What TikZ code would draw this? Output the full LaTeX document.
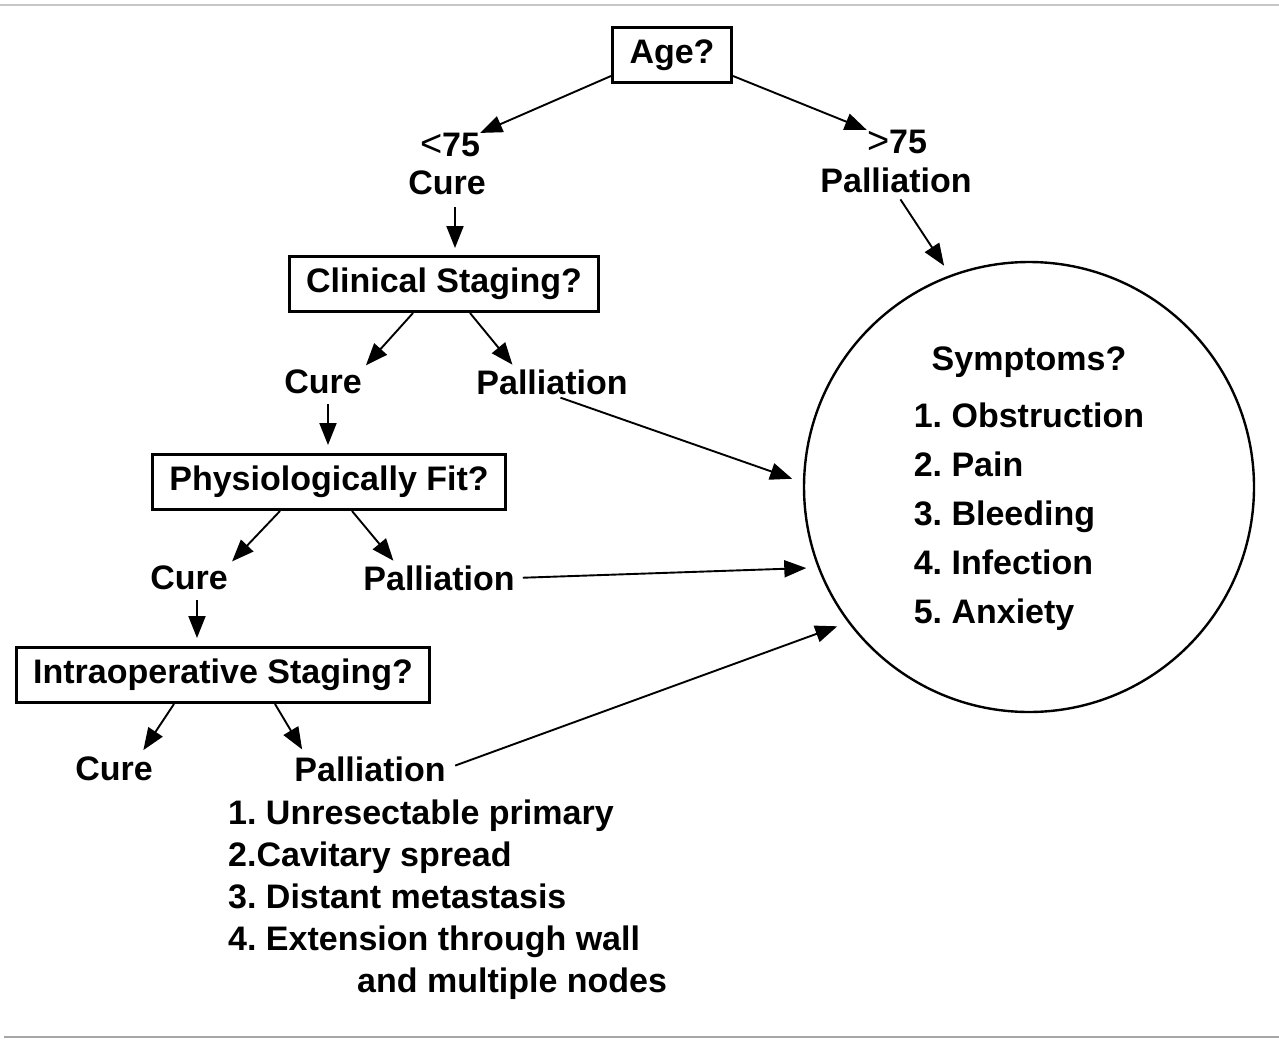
\documentclass[tikz,border=0pt]{standalone}
\usepackage{fontspec}
\setmainfont{Liberation Sans}
\usetikzlibrary{arrows.meta}
\frenchspacing

\tikzset{
  qbox/.style={draw, line width=3pt, inner xsep=17pt, minimum height=55pt, font=\bfseries\fontsize{34}{40}\selectfont},
  lbl/.style={inner sep=0pt, font=\bfseries\fontsize{34}{40}\selectfont},
  arr/.style={line width=1.9pt, -{Triangle[length=22pt,width=17pt]}},
}

\begin{document}
\begin{tikzpicture}[x=1pt,y=-1pt]
  \useasboundingbox (0,0) rectangle (1279,1041);
  \draw[line width=2pt, gray!45] (0,5)--(1279,5);
  \draw[line width=2.5pt, gray!70] (4,1037)--(1279,1037);

  \node[qbox] (age) at (672,55) {Age?};
  \node[lbl] (lt75) at (450,145) {{\mdseries\fontsize{38}{40}\selectfont <}75};
  \node[lbl] (cure0) at (447,183) {Cure};
  \node[lbl] (gt75) at (897,142) {{\mdseries\fontsize{38}{40}\selectfont >}75};
  \node[lbl] (pall0) at (896,180) {Palliation};

  \node[qbox] (clin) at (444,284) {Clinical Staging?};
  \node[lbl] (cure1) at (323,382) {Cure};
  \node[lbl] (pall1) at (552,382) {Palliation};

  \node[qbox] (phys) at (329,482) {Physiologically Fit?};
  \node[lbl] (cure2) at (189,578) {Cure};
  \node[lbl] (pall2) at (439,578) {Palliation};

  \node[qbox] (intra) at (223,675) {Intraoperative Staging?};
  \node[lbl] (cure3) at (114,769) {Cure};
  \node[lbl] (pall3) at (370,769) {Palliation};
  \node[lbl, anchor=north west, align=left, font=\bfseries\fontsize{34}{42}\selectfont] (reasons) at (228,800)
    {1. Unresectable primary\\2.Cavitary spread\\3. Distant metastasis\\4. Extension through wall\\\hspace*{129pt}and multiple nodes};

  \node[draw, circle, line width=2.4pt, minimum size=450pt, inner sep=0pt, outer sep=12pt,
        font=\bfseries\fontsize{34}{49}\selectfont] (symp) at (1029,487)
    {\begin{tabular}{@{}l@{}}
      \multicolumn{1}{@{}c@{}}{Symptoms?}\\[8pt]
      1. Obstruction\\
      2. Pain\\
      3. Bleeding\\
      4. Infection\\
      5. Anxiety
    \end{tabular}};

  \draw[arr] ([yshift=8pt]age.south west) -- (lt75.north east);
  \draw[arr] ([yshift=8pt]age.south east) -- (gt75.north west);
  \draw[arr, shorten <=12pt, shorten >=7pt] ([xshift=8pt]cure0.south) -- ([xshift=8pt]cure0.south |- clin.north);

  \draw[arr, shorten >=6pt] ([xshift=-31pt]clin.south) -- (cure1.north east);
  \draw[arr, shorten >=6pt] ([xshift=26pt]clin.south) -- ([xshift=40pt]pall1.north west);
  \draw[arr, shorten <=10pt, shorten >=8pt] ([xshift=5pt]cure1.south) -- ([xshift=5pt]cure1.south |- phys.north);

  \draw[arr, shorten >=6pt] ([xshift=-49pt]phys.south) -- (cure2.north east);
  \draw[arr, shorten >=6pt] ([xshift=23pt]phys.south) -- ([xshift=34pt]pall2.north west);
  \draw[arr, shorten <=10pt, shorten >=8pt] ([xshift=8pt]cure2.south) -- ([xshift=8pt]cure2.south |- intra.north);

  \draw[arr, shorten >=8pt] ([xshift=-49pt]intra.south) -- ([xshift=-14pt]cure3.north east);
  \draw[arr, shorten >=8pt] ([xshift=52pt]intra.south) -- ([xshift=12pt]pall3.north west);

  \draw[arr, shorten <=8pt] (pall0.south) -- (symp.111);
  \draw[arr, shorten <=9pt] (pall1.south) -- (symp.178);
  \draw[arr, shorten <=8pt] (pall2.east) -- (symp.200);
  \draw[arr, shorten <=10pt] (pall3.east) -- (symp.216);
\end{tikzpicture}
\end{document}
